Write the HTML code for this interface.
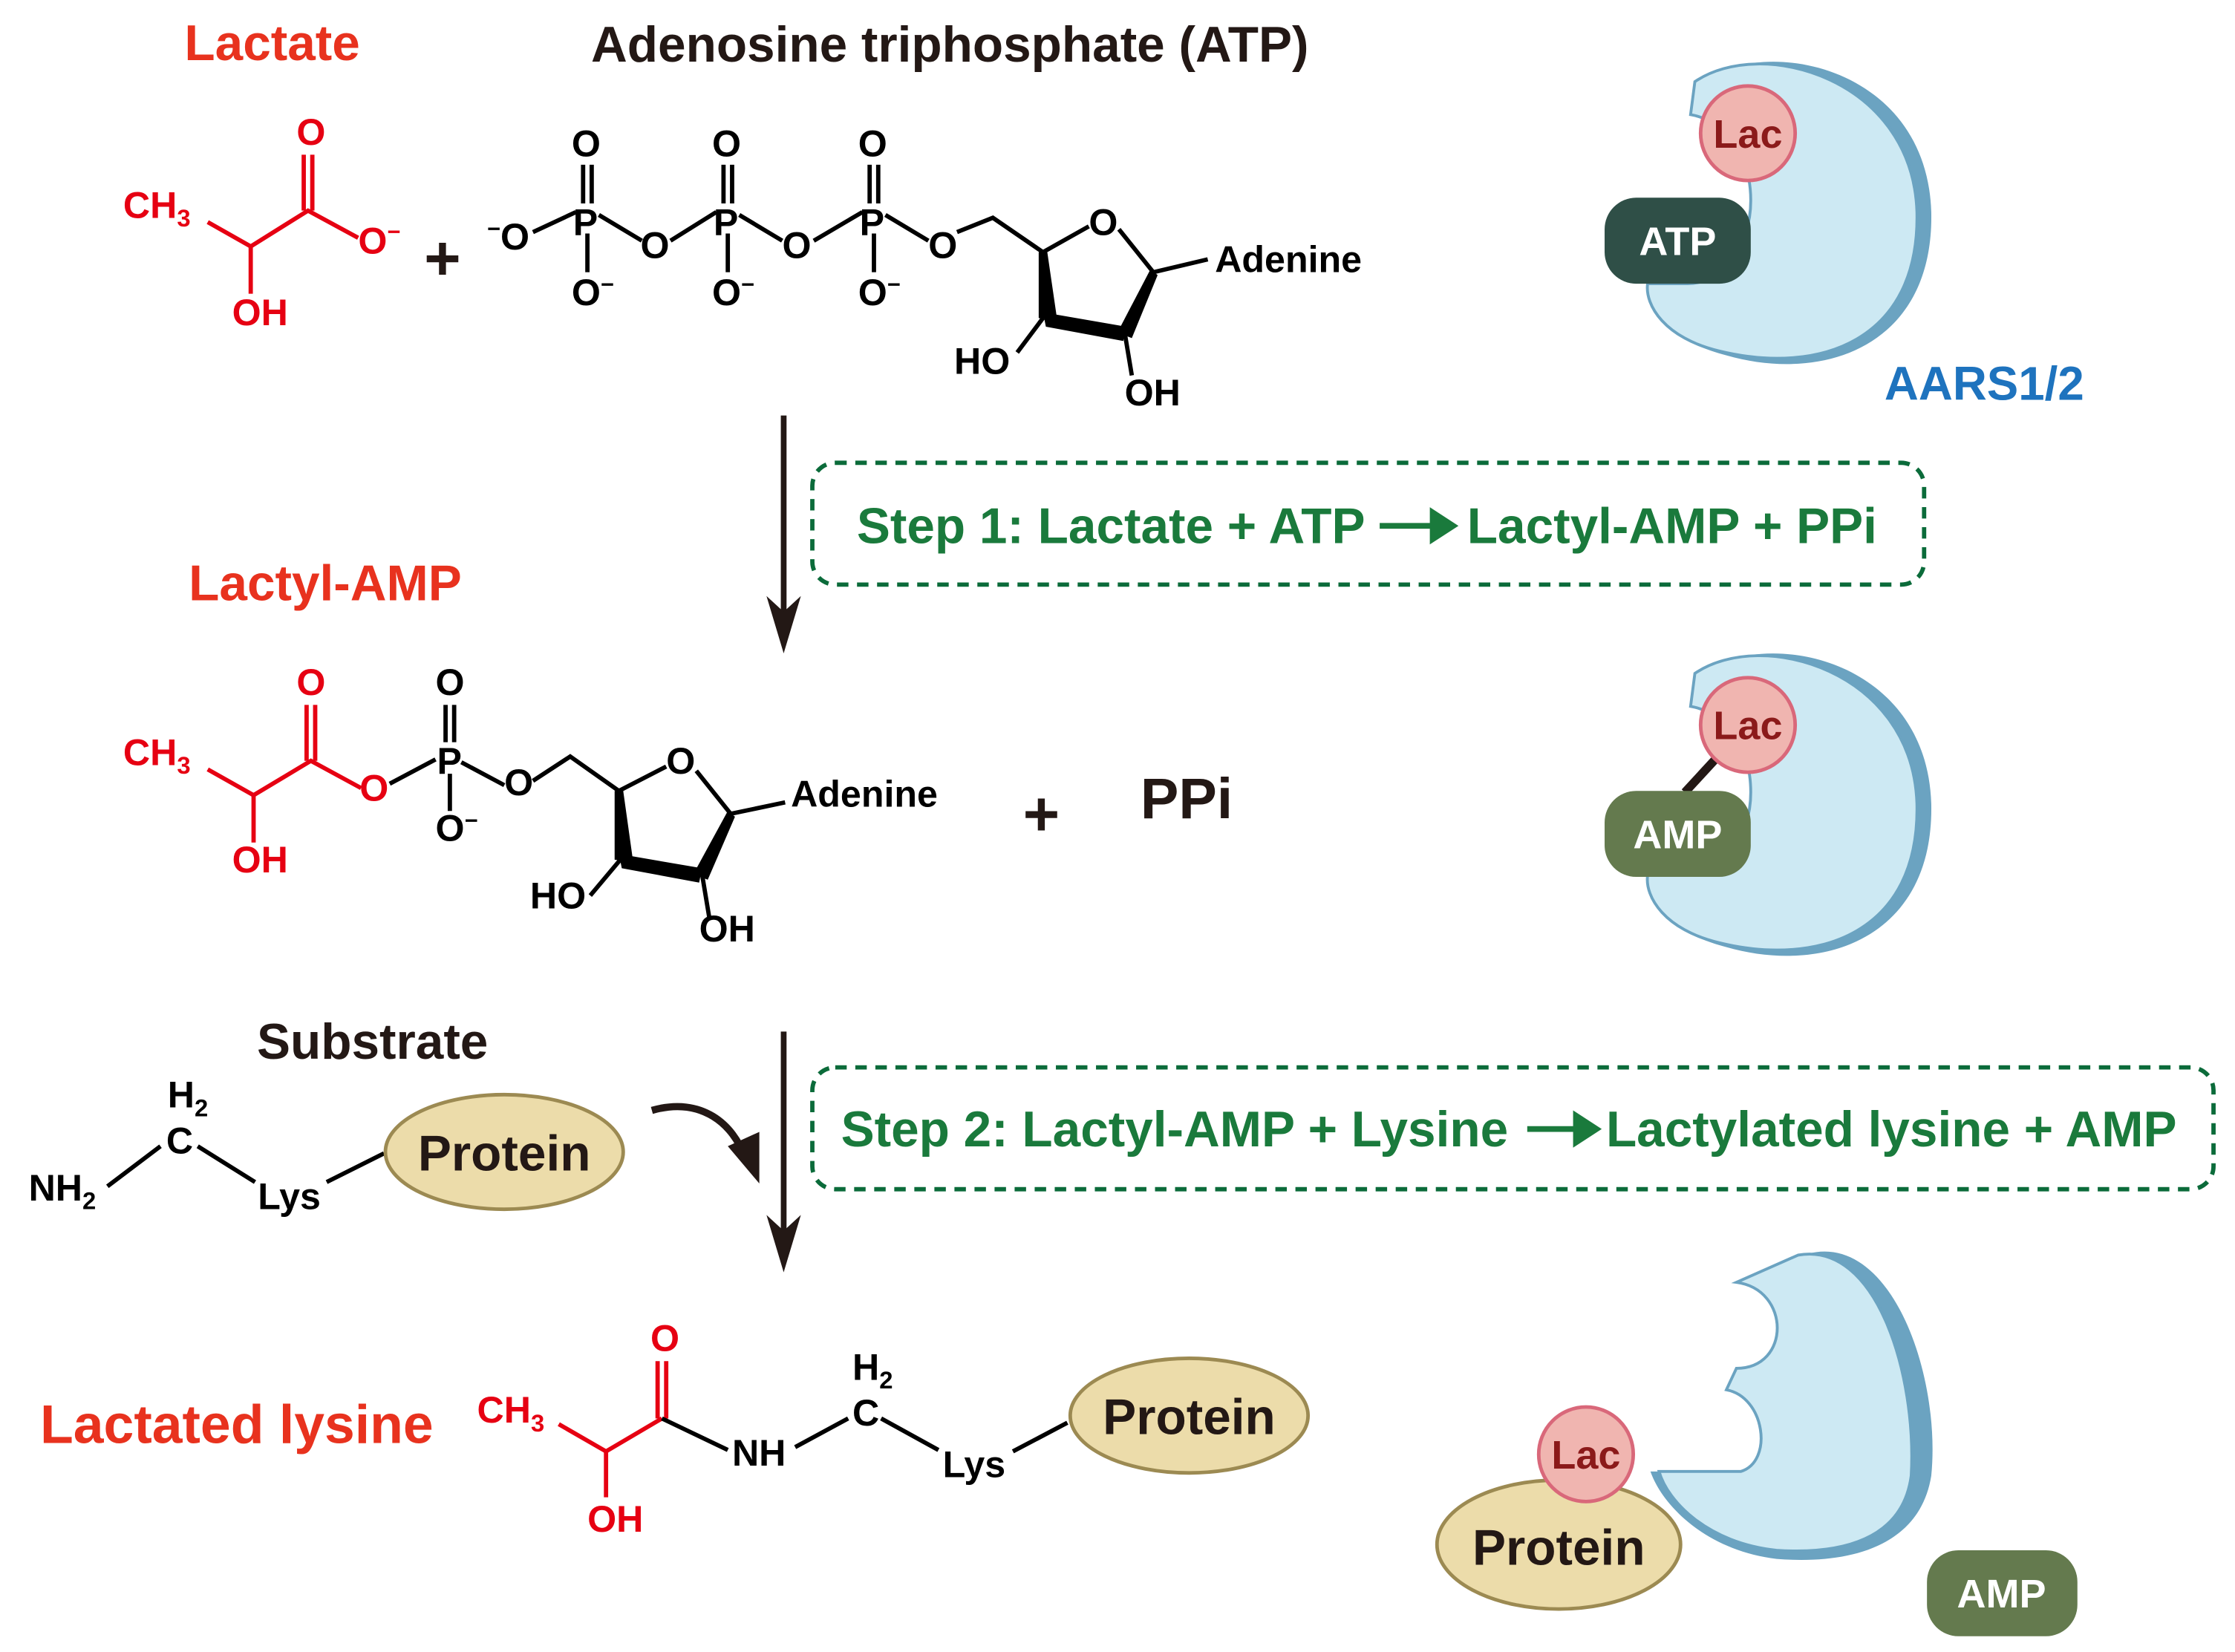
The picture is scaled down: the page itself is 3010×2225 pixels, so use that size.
<!DOCTYPE html>
<html><head><meta charset="utf-8"><style>
html,body{margin:0;padding:0;background:#fff;}
svg{display:block;}
text{font-family:"Liberation Sans",Arial,sans-serif;font-weight:bold;}
</style></head><body>
<svg width="3010" height="2225" viewBox="0 0 1560 1153" preserveAspectRatio="none" xmlns="http://www.w3.org/2000/svg">
<defs>
<g id="enz">
<path d="M1190,55 C1240,25 1345,50 1348,148 C1350,240 1275,268 1205,248 C1165,238 1150,215 1152,198 L1180,198 C1205,198 1225,172 1225,140 C1225,105 1205,82 1185,78 Z" fill="#6ba3c1"/>
<path d="M1183,57 C1230,25 1335,55 1338,148 C1340,238 1270,262 1200,245 C1162,236 1148,213 1150,198 L1178,198 C1202,198 1222,172 1222,140 C1222,106 1203,84 1180,80 Z" fill="#cde9f3" stroke="#6ba3c1" stroke-width="2"/>
</g>
</defs>

<!-- Titles -->
<text x="190" y="42" font-size="35" fill="#e8321e" text-anchor="middle">Lactate</text>
<text x="663" y="43" font-size="35" fill="#231815" text-anchor="middle">Adenosine triphosphate (ATP)</text>

<!-- Lactate structure -->
<g stroke="#e60012" stroke-width="3" fill="none">
<path d="M145,155 L175,172 L215,147 L250,166"/>
<path d="M175,172 L175,205"/>
<path d="M212,147 L212,108 M218,147 L218,108"/>
</g>
<g fill="#e60012" font-size="26">
<text x="86" y="152">CH<tspan font-size="17" dy="6">3</tspan></text>
<text x="207" y="101">O</text>
<text x="250" y="177">O<tspan font-size="16" dy="-10">−</tspan></text>
<text x="162" y="227">OH</text>
</g>

<text x="296" y="195" font-size="44" fill="#231815">+</text>

<!-- ATP -->
<g stroke="#000" stroke-width="3" fill="none">
<path d="M372,162 L402,148 M418,150 L448,168 M468,168 L500,148 M516,150 L546,168 M568,168 L602,148 M618,150 L648,168 M668,162 L693,152 L728,176"/>
<path d="M407,115 L407,142 M413,115 L413,142 M505,115 L505,142 M511,115 L511,142 M607,115 L607,142 M613,115 L613,142"/>
<path d="M410,163 L410,190 M508,163 L508,190 M610,163 L610,190"/>
<path d="M728,176 L760,158 M781,160 L805,190 L843,181"/>
<path d="M710,246 L728,222 M785,232 L790,262"/>
</g>
<polygon points="725,176 731,176 738,224 725,222" fill="#000"/>
<polygon points="728,218 786,228 784,238 730,228" fill="#000"/>
<polygon points="803,188 808,192 790,236 780,232" fill="#000"/>
<g fill="#000" font-size="26">
<text x="340" y="174"><tspan font-size="16" dy="-9">−</tspan><tspan dy="9">O</tspan></text>
<text x="399" y="109">O</text><text x="497" y="109">O</text><text x="599" y="109">O</text>
<text x="400" y="164">P</text><text x="498" y="164">P</text><text x="600" y="164">P</text>
<text x="447" y="180">O</text><text x="546" y="180">O</text><text x="648" y="180">O</text>
<text x="399" y="213">O<tspan font-size="16" dy="-9">−</tspan></text>
<text x="497" y="213">O<tspan font-size="16" dy="-9">−</tspan></text>
<text x="599" y="213">O<tspan font-size="16" dy="-9">−</tspan></text>
<text x="760" y="164">O</text>
<text x="848" y="190">Adenine</text>
<text x="666" y="261">HO</text>
<text x="785" y="283">OH</text>
</g>

<!-- Arrow 1 -->
<line x1="547" y1="290" x2="547" y2="430" stroke="#231815" stroke-width="4"/>
<path d="M535,416 L547,456 L559,416 L547,427 Z" fill="#231815"/>

<!-- Step 1 box -->
<rect x="567" y="323" width="776" height="85" rx="16" fill="none" stroke="#0b6b3a" stroke-width="3" stroke-dasharray="8,6"/>
<text x="598" y="379" font-size="35" fill="#1a7a3c">Step 1: Lactate + ATP</text>
<path d="M963,365 L998,365 L998,354 L1018,367 L998,380 L998,369 L963,369 Z" fill="#1a7a3c"/>
<text x="1024" y="379" font-size="35" fill="#1a7a3c">Lactyl-AMP + PPi</text>

<!-- Enzyme 1 -->
<use href="#enz"/>
<circle cx="1220" cy="93" r="33" fill="#f0b5b0" stroke="#d9687a" stroke-width="2.5"/>
<text x="1220" y="103" font-size="28" fill="#8b1a1a" text-anchor="middle">Lac</text>
<rect x="1120" y="138" width="102" height="60" rx="22" fill="#2f4f47"/>
<text x="1171" y="178" font-size="28" fill="#fff" text-anchor="middle">ATP</text>
<text x="1385" y="279" font-size="33" fill="#1e73be" text-anchor="middle">AARS1/2</text>

<!-- Enzyme 2 -->
<use href="#enz" transform="translate(0,413)"/>
<line x1="1176" y1="553" x2="1200" y2="527" stroke="#231815" stroke-width="6"/>
<circle cx="1220" cy="506" r="33" fill="#f0b5b0" stroke="#d9687a" stroke-width="2.5"/>
<text x="1220" y="516" font-size="28" fill="#8b1a1a" text-anchor="middle">Lac</text>
<rect x="1120" y="552" width="102" height="60" rx="22" fill="#647a4e"/>
<text x="1171" y="592" font-size="28" fill="#fff" text-anchor="middle">AMP</text>

<!-- Lactyl-AMP -->
<text x="227" y="419" font-size="35" fill="#e8321e" text-anchor="middle">Lactyl-AMP</text>
<g stroke="#e60012" stroke-width="3" fill="none">
<path d="M145,537 L177,555 L217,531 L252,550"/>
<path d="M177,555 L177,588"/>
<path d="M214,531 L214,492 M220,531 L220,492"/>
</g>
<g fill="#e60012" font-size="26">
<text x="86" y="534">CH<tspan font-size="17" dy="6">3</tspan></text>
<text x="207" y="485">O</text>
<text x="251" y="559">O</text>
<text x="162" y="609">OH</text>
</g>
<g stroke="#000" stroke-width="3" fill="none">
<path d="M272,547 L304,530 M322,532 L352,548 M372,545 L398,528 L432,552"/>
<path d="M311,492 L311,518 M317,492 L317,518 M314,540 L314,566"/>
<path d="M432,552 L465,535 M486,538 L510,568 L548,560"/>
<path d="M412,625 L433,600 M490,610 L495,640"/>
</g>
<polygon points="429,552 435,552 442,602 429,600" fill="#000"/>
<polygon points="432,596 490,606 488,616 434,606" fill="#000"/>
<polygon points="508,566 513,570 494,614 484,610" fill="#000"/>
<g fill="#000" font-size="26">
<text x="304" y="485">O</text>
<text x="305" y="540">P</text>
<text x="352" y="555">O</text>
<text x="304" y="587">O<tspan font-size="16" dy="-9">−</tspan></text>
<text x="465" y="540">O</text>
<text x="552" y="563">Adenine</text>
<text x="370" y="634">HO</text>
<text x="488" y="657">OH</text>
</g>
<text x="714" y="583" font-size="44" fill="#231815">+</text>
<text x="796" y="571" font-size="40" fill="#231815">PPi</text>

<!-- Substrate -->
<text x="260" y="739" font-size="35" fill="#231815" text-anchor="middle">Substrate</text>
<g stroke="#000" stroke-width="3" fill="none">
<path d="M75,828 L112,800 M138,800 L178,825 M228,825 L268,805"/>
</g>
<g fill="#000" font-size="26">
<text x="20" y="838">NH<tspan font-size="17" dy="6">2</tspan></text>
<text x="117" y="773">H<tspan font-size="17" dy="6">2</tspan></text>
<text x="116" y="805">C</text>
<text x="180" y="844">Lys</text>
</g>
<ellipse cx="352" cy="804" rx="83" ry="40" fill="#ecdcaa" stroke="#9c8a52" stroke-width="2.5"/>
<text x="352" y="817" font-size="35" fill="#231815" text-anchor="middle">Protein</text>
<path d="M455,775 C490,765 512,785 520,808" fill="none" stroke="#231815" stroke-width="5"/>
<path d="M508,800 L530,826 L530,790 Z" fill="#231815"/>

<!-- Arrow 2 -->
<line x1="547" y1="720" x2="547" y2="860" stroke="#231815" stroke-width="4"/>
<path d="M535,848 L547,888 L559,848 L547,859 Z" fill="#231815"/>

<!-- Step 2 box -->
<rect x="567" y="745" width="978" height="85" rx="16" fill="none" stroke="#0b6b3a" stroke-width="3" stroke-dasharray="8,6"/>
<text x="587" y="800" font-size="35" fill="#1a7a3c">Step 2: Lactyl-AMP + Lysine</text>
<path d="M1066,786 L1098,786 L1098,775 L1118,788 L1098,801 L1098,790 L1066,790 Z" fill="#1a7a3c"/>
<text x="1121" y="800" font-size="35" fill="#1a7a3c">Lactylated lysine + AMP</text>

<!-- Lactylated lysine -->
<text x="28" y="1007" font-size="38" fill="#e8321e">Lactated lysine</text>
<g stroke="#e60012" stroke-width="3" fill="none">
<path d="M390,994 L423,1013 L462,990"/>
<path d="M423,1013 L423,1045"/>
<path d="M459,990 L459,950 M465,990 L465,950"/>
</g>
<g fill="#e60012" font-size="26">
<text x="333" y="993">CH<tspan font-size="17" dy="6">3</tspan></text>
<text x="454" y="943">O</text>
<text x="410" y="1069">OH</text>
</g>
<g stroke="#000" stroke-width="3" fill="none">
<path d="M462,990 L508,1012 M555,1010 L592,990 M615,990 L655,1012 M707,1013 L745,993"/>
</g>
<g fill="#000" font-size="26">
<text x="511" y="1023">NH</text>
<text x="595" y="963">H<tspan font-size="17" dy="6">2</tspan></text>
<text x="595" y="995">C</text>
<text x="658" y="1031">Lys</text>
</g>
<ellipse cx="830" cy="988" rx="83" ry="40" fill="#ecdcaa" stroke="#9c8a52" stroke-width="2.5"/>
<text x="830" y="1001" font-size="35" fill="#231815" text-anchor="middle">Protein</text>

<!-- Bottom enzyme -->
<path d="M1262,875 C1320,860 1355,960 1348,1030 C1340,1080 1290,1092 1240,1088 C1190,1082 1160,1050 1152,1027 L1215,1027 C1238,1020 1232,975 1205,970 L1212,955 C1250,955 1250,900 1212,895 Z" fill="#6ba3c1"/>
<path d="M1255,876 C1310,866 1338,960 1334,1030 C1328,1075 1285,1085 1240,1082 C1192,1077 1164,1048 1158,1027 L1215,1027 C1238,1020 1232,975 1205,970 L1212,955 C1250,955 1250,900 1212,895 Z" fill="#cde9f3" stroke="#6ba3c1" stroke-width="2"/>
<ellipse cx="1088" cy="1078" rx="85" ry="45" fill="#ecdcaa" stroke="#9c8a52" stroke-width="2.5"/>
<text x="1088" y="1092" font-size="35" fill="#231815" text-anchor="middle">Protein</text>
<circle cx="1107" cy="1015" r="33" fill="#f0b5b0" stroke="#d9687a" stroke-width="2.5"/>
<text x="1107" y="1025" font-size="28" fill="#8b1a1a" text-anchor="middle">Lac</text>
<rect x="1345" y="1082" width="105" height="60" rx="22" fill="#647a4e"/>
<text x="1397" y="1122" font-size="28" fill="#fff" text-anchor="middle">AMP</text>
</svg>
</body></html>
